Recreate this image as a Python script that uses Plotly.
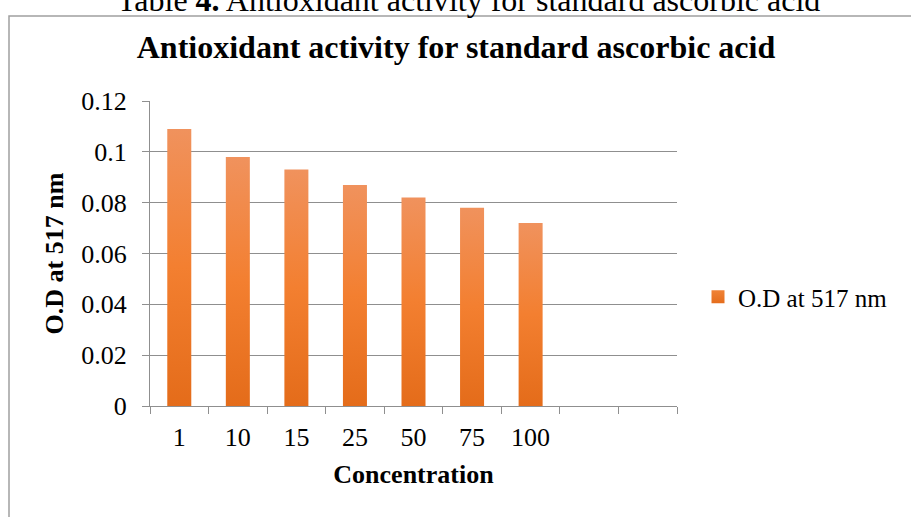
import plotly.graph_objects as go

# Ascorbic acid standard: optical density at 517 nm per concentration
concentrations = ["1", "10", "15", "25", "50", "75", "100", "", ""]
od_values = [0.109, 0.098, 0.093, 0.087, 0.082, 0.078, 0.072]
series_name = "O.D at 517 nm"
y_ticks = [0, 0.02, 0.04, 0.06, 0.08, 0.1, 0.12]

SERIF = "Liberation Serif, Times New Roman, serif"
GRID = "#8f8f8f"
BAR_SCALE = [[0.0, "#e46c1a"], [0.5, "#f37f30"], [1.0, "#f0925d"]]
HALF_W = 0.205

fig = go.Figure()

# each bar is a filled rectangle so it can carry a vertical colour gradient
for i, v in enumerate(od_values):
    fig.add_trace(go.Scatter(
        x=[i - HALF_W, i + HALF_W, i + HALF_W, i - HALF_W, i - HALF_W],
        y=[0, 0, v, v, 0],
        mode="lines",
        line=dict(width=0, color="rgba(0,0,0,0)"),
        fill="toself",
        fillgradient=dict(type="vertical", colorscale=BAR_SCALE),
        showlegend=False,
        hoverinfo="skip",
    ))

# legend swatch for the series
fig.add_trace(go.Scatter(
    x=[None], y=[None], mode="markers", name=series_name,
    marker=dict(symbol="square", size=13, color="#f08236",
                gradient=dict(type="vertical", color="#e56d1c")),
    showlegend=True,
))

fig.update_layout(
    width=911, height=517,
    margin=dict(l=150, r=234, t=101, b=111),
    paper_bgcolor="white", plot_bgcolor="white",
    font=dict(family=SERIF, size=26, color="black"),
    title=dict(
        text="<b>Antioxidant activity for standard ascorbic acid</b>",
        font=dict(family=SERIF, size=32, color="black"),
        x=456 / 911, xanchor="center", xref="container",
        y=1 - 47 / 517, yanchor="middle",
    ),
    legend=dict(
        x=(698 - 150) / 527, xanchor="left",
        y=(406 - 297) / 305, yanchor="middle",
        font=dict(family=SERIF, size=25, color="black"),
        bgcolor="rgba(0,0,0,0)",
    ),
    showlegend=True,
)

fig.update_xaxes(
    range=[-0.5, len(concentrations) - 0.5],
    tickmode="array",
    tickvals=list(range(len(concentrations))),
    ticktext=concentrations,
    ticks="",
    ticklabelstandoff=8,
    showgrid=False, zeroline=False,
    showline=True, linecolor=GRID, linewidth=1,
    minor=dict(ticks="outside", ticklen=7, tickcolor=GRID,
               tick0=0.5, dtick=1, showgrid=False),
    tickfont=dict(family=SERIF, size=26, color="black"),
    title=dict(text="<b>Concentration</b>",
               font=dict(family=SERIF, size=26, color="black"), standoff=13),
    fixedrange=True,
)

fig.update_yaxes(
    range=[0, 0.12],
    tickmode="array", tickvals=y_ticks,
    ticks="outside", ticklen=7, tickcolor=GRID,
    ticklabelstandoff=10,
    showgrid=True, gridcolor=GRID, gridwidth=1,
    zeroline=False,
    showline=True, linecolor=GRID, linewidth=1,
    tickfont=dict(family=SERIF, size=26, color="black"),
    title=dict(text="<b>O.D at 517 nm</b>",
               font=dict(family=SERIF, size=26, color="black"), standoff=10),
    fixedrange=True,
)

# document frame around the chart and the table caption above it
fig.add_shape(
    type="path", xref="paper", yref="paper",
    path="M {l} {b} L {l} {t} L {r} {t}".format(
        l=(9 - 150) / 527, b=(406 - 540) / 305,
        t=(406 - 16) / 305, r=(940 - 150) / 527),
    line=dict(color="#a0a0a0", width=1.5),
)
fig.add_annotation(
    text="Table <b>4.</b> Antioxidant activity for standard ascorbic acid",
    xref="paper", yref="paper",
    x=(468 - 150) / 527, xanchor="center",
    y=(406 - 0) / 305, yanchor="middle",
    showarrow=False,
    font=dict(family=SERIF, size=32, color="black"),
)

fig.write_html("out.html")
